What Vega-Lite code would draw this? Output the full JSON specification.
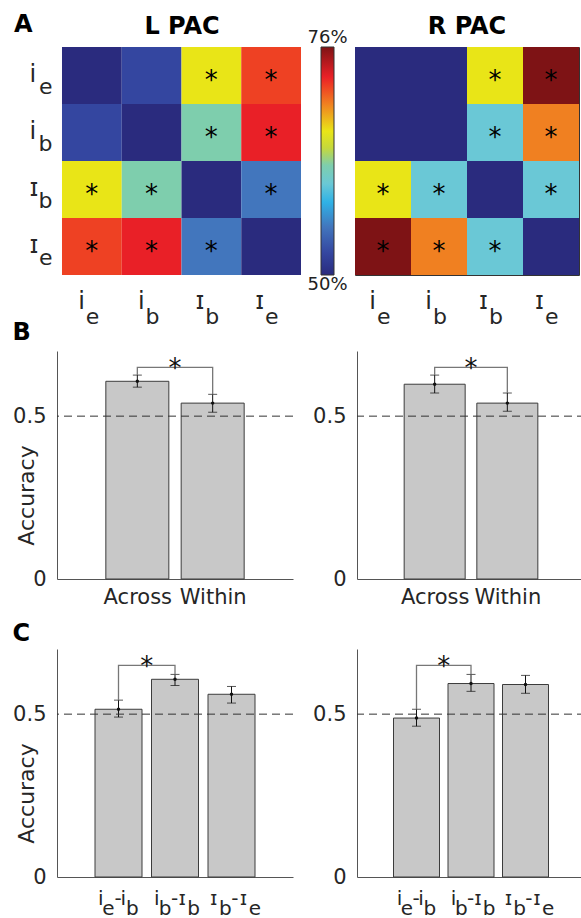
{
  "$schema": "https://vega.github.io/schema/vega-lite/v6.json",
  "padding": {"left": 12, "top": 12, "right": 0, "bottom": 0},
  "config": {
    "font": "DejaVu Sans",
    "view": {"stroke": null},
    "axis": {"grid": false, "labelColor": "#262626", "titleColor": "#262626", "domainColor": "#555555", "titleFontWeight": "normal"},
    "title": {"color": "#000000", "fontWeight": "bold"}
  },
  "datasets": {
    "heatL": [
      {"r": "ie", "c": "ie", "v": 50, "s": ""}, {"r": "ie", "c": "ib", "v": 52.5, "s": ""}, {"r": "ie", "c": "Ib", "v": 66.4, "s": "*"}, {"r": "ie", "c": "Ie", "v": 71.5, "s": "*"},
      {"r": "ib", "c": "ie", "v": 52.5, "s": ""}, {"r": "ib", "c": "ib", "v": 50, "s": ""}, {"r": "ib", "c": "Ib", "v": 62.5, "s": "*"}, {"r": "ib", "c": "Ie", "v": 72.6, "s": "*"},
      {"r": "Ib", "c": "ie", "v": 66.4, "s": "*"}, {"r": "Ib", "c": "ib", "v": 62.5, "s": "*"}, {"r": "Ib", "c": "Ib", "v": 50, "s": ""}, {"r": "Ib", "c": "Ie", "v": 55.5, "s": "*"},
      {"r": "Ie", "c": "ie", "v": 71.5, "s": "*"}, {"r": "Ie", "c": "ib", "v": 72.6, "s": "*"}, {"r": "Ie", "c": "Ib", "v": 55.5, "s": "*"}, {"r": "Ie", "c": "Ie", "v": 50, "s": ""}
    ],
    "heatR": [
      {"r": "ie", "c": "ie", "v": 50, "s": ""}, {"r": "ie", "c": "ib", "v": 50, "s": ""}, {"r": "ie", "c": "Ib", "v": 66.4, "s": "*"}, {"r": "ie", "c": "Ie", "v": 76, "s": "*"},
      {"r": "ib", "c": "ie", "v": 50, "s": ""}, {"r": "ib", "c": "ib", "v": 50, "s": ""}, {"r": "ib", "c": "Ib", "v": 60.4, "s": "*"}, {"r": "ib", "c": "Ie", "v": 69.5, "s": "*"},
      {"r": "Ib", "c": "ie", "v": 66.4, "s": "*"}, {"r": "Ib", "c": "ib", "v": 60.4, "s": "*"}, {"r": "Ib", "c": "Ib", "v": 50, "s": ""}, {"r": "Ib", "c": "Ie", "v": 60.4, "s": "*"},
      {"r": "Ie", "c": "ie", "v": 76, "s": "*"}, {"r": "Ie", "c": "ib", "v": 69.5, "s": "*"}, {"r": "Ie", "c": "Ib", "v": 60.4, "s": "*"}, {"r": "Ie", "c": "Ie", "v": 50, "s": ""}
    ],
    "cbar": [{"lo": 50, "hi": 76}],
    "cbarTop": [{"v": 76, "t": "76%"}],
    "cbarBottom": [{"v": 50, "t": "50%"}],
    "bL": [{"pos": 1, "name": "Across", "mean": 0.607, "lo": 0.589, "hi": 0.626}, {"pos": 2, "name": "Within", "mean": 0.54, "lo": 0.512, "hi": 0.567}],
    "bR": [{"pos": 1, "name": "Across", "mean": 0.598, "lo": 0.571, "hi": 0.626}, {"pos": 2, "name": "Within", "mean": 0.54, "lo": 0.515, "hi": 0.571}],
    "cL": [{"pos": 1, "name": "ie-ib", "mean": 0.515, "lo": 0.491, "hi": 0.543}, {"pos": 2, "name": "ib-Ib", "mean": 0.607, "lo": 0.588, "hi": 0.622}, {"pos": 3, "name": "Ib-Ie", "mean": 0.561, "lo": 0.534, "hi": 0.585}],
    "cR": [{"pos": 1, "name": "ie-ib", "mean": 0.488, "lo": 0.463, "hi": 0.515}, {"pos": 2, "name": "ib-Ib", "mean": 0.594, "lo": 0.57, "hi": 0.622}, {"pos": 3, "name": "Ib-Ie", "mean": 0.591, "lo": 0.564, "hi": 0.619}],
    "brBL": [{"x": 1, "y": 0.626, "o": 0}, {"x": 1, "y": 0.65, "o": 1}, {"x": 2, "y": 0.65, "o": 2}, {"x": 2, "y": 0.567, "o": 3}],
    "brBR": [{"x": 1, "y": 0.626, "o": 0}, {"x": 1, "y": 0.65, "o": 1}, {"x": 2, "y": 0.65, "o": 2}, {"x": 2, "y": 0.571, "o": 3}],
    "brCL": [{"x": 1, "y": 0.543, "o": 0}, {"x": 1, "y": 0.65, "o": 1}, {"x": 2, "y": 0.65, "o": 2}, {"x": 2, "y": 0.622, "o": 3}],
    "brCR": [{"x": 1, "y": 0.515, "o": 0}, {"x": 1, "y": 0.65, "o": 1}, {"x": 2, "y": 0.65, "o": 2}, {"x": 2, "y": 0.622, "o": 3}],
    "star": [{"x": 1.5, "y": 0.65, "t": "*"}],
    "chance": [{"y": 0.5}]
  },
  "columns": 1,
  "align": "none",
  "spacing": -7,
  "concat": [
    {
      "title": {"text": "A", "anchor": "start", "fontSize": 24, "dx": -15, "dy": 26},
      "spacing": 6,
      "hconcat": [
        {
          "width": 244, "height": 228,
          "title": {"text": "L PAC", "fontSize": 24, "offset": 8, "dx": 3},
          "data": {"name": "heatL"},
          "resolve": {"axis": {"x": "independent", "y": "independent"}},
          "layer": [
            {
              "mark": {"type": "rect"},
              "encoding": {
                "x": {"field": "c", "type": "nominal", "sort": ["ie", "ib", "Ib", "Ie"], "scale": {"paddingInner": 0, "paddingOuter": 0.0418, "align": 1}, "axis": {"orient": "bottom", "title": null, "domain": false, "ticks": false, "tickSize": 0, "labelAngle": 0, "labelPadding": 33, "labelBaseline": "alphabetic", "labelAlign": "right", "labelOffset": -7, "labelFontSize": 24, "labelExpr": "substring(datum.value,0,1) == 'i' ? 'i' : 'ɪ'"}},
                "y": {"field": "r", "type": "nominal", "sort": ["ie", "ib", "Ib", "Ie"], "axis": {"orient": "left", "title": null, "domain": false, "ticks": false, "tickSize": 0, "labelPadding": 28, "labelAlign": "left", "labelBaseline": "alphabetic", "labelOffset": 6, "labelFontSize": 24, "labelExpr": "substring(datum.value,0,1) == 'i' ? 'i' : 'ɪ'"}},
                "color": {
                  "field": "v", "type": "quantitative",
                  "scale": {"domain": [50, 52.5, 55.5, 58.3, 60.4, 62.5, 64.5, 66.4, 69.5, 71.5, 72.6, 76], "range": ["#2a2b7e", "#3446a0", "#4276bd", "#2fb2e6", "#6ac8d6", "#7ecead", "#c5d93c", "#e9e517", "#f08021", "#ee4123", "#e92027", "#7e1315"], "interpolate": "rgb", "nice": false},
                  "legend": null
                }
              }
            },
            {
              "mark": {"type": "text", "fontSize": 26, "baseline": "middle", "dy": 5, "color": "#000000"},
              "encoding": {
                "x": {"field": "c", "type": "nominal", "sort": ["ie", "ib", "Ib", "Ie"], "scale": {"paddingInner": 0, "paddingOuter": 0.0418, "align": 1}, "axis": {"orient": "bottom", "title": null, "domain": false, "ticks": false, "tickSize": 0, "labelAngle": 0, "labelPadding": 48, "labelBaseline": "alphabetic", "labelAlign": "left", "labelOffset": -6, "labelFontSize": 22, "labelExpr": "substring(datum.value,1,2)"}},
                "y": {"field": "r", "type": "nominal", "sort": ["ie", "ib", "Ib", "Ie"], "axis": {"orient": "left", "title": null, "domain": false, "ticks": false, "tickSize": 0, "labelPadding": 5, "labelAlign": "right", "labelBaseline": "alphabetic", "labelOffset": 18, "labelFontSize": 22, "labelExpr": "substring(datum.value,1,2)"}},
                "text": {"field": "s"}
              }
            }
          ]
        },
        {
          "width": 13, "height": 228,
          "layer": [
            {"data": {"name": "cbar"},
             "mark": {"type": "rect", "stroke": "#333333", "strokeWidth": 1,
                      "fill": {"gradient": "linear", "x1": 0, "y1": 1, "x2": 0, "y2": 0, "stops": [
                        {"offset": 0, "color": "#2a2b7e"}, {"offset": 0.0962, "color": "#3446a0"}, {"offset": 0.2115, "color": "#4276bd"}, {"offset": 0.3192, "color": "#2fb2e6"},
                        {"offset": 0.4, "color": "#6ac8d6"}, {"offset": 0.4808, "color": "#7ecead"}, {"offset": 0.5577, "color": "#c5d93c"}, {"offset": 0.6308, "color": "#e9e517"},
                        {"offset": 0.75, "color": "#f08021"}, {"offset": 0.8269, "color": "#ee4123"}, {"offset": 0.8692, "color": "#e92027"}, {"offset": 1, "color": "#7e1315"}]}},
             "encoding": {"y": {"field": "lo", "type": "quantitative", "scale": {"domain": [50, 76], "nice": false, "zero": false}, "axis": null}, "y2": {"field": "hi"}}},
            {"data": {"name": "cbarTop"}, "mark": {"type": "text", "baseline": "bottom", "fontSize": 18, "dy": 0, "color": "#222222"},
             "encoding": {"y": {"field": "v", "type": "quantitative", "scale": {"domain": [50, 76], "nice": false, "zero": false}, "axis": null}, "text": {"field": "t"}}},
            {"data": {"name": "cbarBottom"}, "mark": {"type": "text", "baseline": "top", "fontSize": 18, "dy": 1, "color": "#222222"},
             "encoding": {"y": {"field": "v", "type": "quantitative", "scale": {"domain": [50, 76], "nice": false, "zero": false}, "axis": null}, "text": {"field": "t"}}}
          ]
        },
        {
          "width": 224, "height": 228,
          "view": {"stroke": "#333333", "strokeWidth": 1},
          "title": {"text": "R PAC", "fontSize": 24, "offset": 8},
          "data": {"name": "heatR"},
          "resolve": {"axis": {"x": "independent"}},
          "layer": [
            {
              "mark": {"type": "rect"},
              "encoding": {
                "x": {"field": "c", "type": "nominal", "sort": ["ie", "ib", "Ib", "Ie"], "axis": {"orient": "bottom", "title": null, "domain": false, "ticks": false, "tickSize": 0, "labelAngle": 0, "labelPadding": 33, "labelBaseline": "alphabetic", "labelAlign": "right", "labelOffset": -7, "labelFontSize": 24, "labelExpr": "substring(datum.value,0,1) == 'i' ? 'i' : 'ɪ'"}},
                "y": {"field": "r", "type": "nominal", "sort": ["ie", "ib", "Ib", "Ie"], "axis": null},
                "color": {
                  "field": "v", "type": "quantitative",
                  "scale": {"domain": [50, 52.5, 55.5, 58.3, 60.4, 62.5, 64.5, 66.4, 69.5, 71.5, 72.6, 76], "range": ["#2a2b7e", "#3446a0", "#4276bd", "#2fb2e6", "#6ac8d6", "#7ecead", "#c5d93c", "#e9e517", "#f08021", "#ee4123", "#e92027", "#7e1315"], "interpolate": "rgb", "nice": false},
                  "legend": null
                }
              }
            },
            {
              "mark": {"type": "text", "fontSize": 26, "baseline": "middle", "dy": 5, "color": "#000000"},
              "encoding": {
                "x": {"field": "c", "type": "nominal", "sort": ["ie", "ib", "Ib", "Ie"], "axis": {"orient": "bottom", "title": null, "domain": false, "ticks": false, "tickSize": 0, "labelAngle": 0, "labelPadding": 48, "labelBaseline": "alphabetic", "labelAlign": "left", "labelOffset": -6, "labelFontSize": 22, "labelExpr": "substring(datum.value,1,2)"}},
                "y": {"field": "r", "type": "nominal", "sort": ["ie", "ib", "Ib", "Ie"], "axis": null},
                "text": {"field": "s"}
              }
            }
          ]
        }
      ]
    },
    {
      "spacing": 15,
      "vconcat": [
        {
          "title": {"text": "B", "anchor": "start", "fontSize": 24, "offset": 6},
          "spacing": 18,
          "hconcat": [
            {
              "width": 236, "height": 228,
              "layer": [
                {"data": {"name": "bL"}, "mark": {"type": "bar", "orient": "vertical", "size": 63, "fill": "#c8c8c8", "stroke": "#3c3c3c", "strokeWidth": 1},
                 "encoding": {
                   "x": {"field": "pos", "type": "quantitative", "scale": {"domain": [0, 3], "nice": false, "zero": false}, "axis": {"values": [1, 2], "labelExpr": "datum.value == 1 ? 'Across' : 'Within'", "title": null, "ticks": false, "tickSize": 0, "labelFontSize": 21, "labelPadding": 7, "labelFlush": false, "labelAngle": 0}},
                   "y": {"field": "mean", "type": "quantitative", "scale": {"domain": [0, 0.7], "nice": false}, "axis": {"values": [0, 0.5], "format": ".1~f", "labelFontSize": 21, "labelPadding": 11, "ticks": false, "tickSize": 0, "labelFlush": false, "title": "Accuracy", "titleFontSize": 22, "titleX": -19, "titleY": 144, "titleBaseline": "bottom", "titleAngle": -90, "titleAlign": "center"}}
                 }},
                {"data": {"name": "bL"}, "mark": {"type": "rule", "color": "#111111", "strokeWidth": 1},
                 "encoding": {"x": {"field": "pos", "type": "quantitative", "scale": {"domain": [0, 3], "nice": false}}, "y": {"field": "lo", "type": "quantitative", "scale": {"domain": [0, 0.7], "nice": false}}, "y2": {"field": "hi"}}},
                {"data": {"name": "bL"}, "mark": {"type": "tick", "orient": "horizontal", "size": 9, "thickness": 1, "color": "#111111"},
                 "encoding": {"x": {"field": "pos", "type": "quantitative", "scale": {"domain": [0, 3], "nice": false}}, "y": {"field": "lo", "type": "quantitative", "scale": {"domain": [0, 0.7], "nice": false}}}},
                {"data": {"name": "bL"}, "mark": {"type": "tick", "orient": "horizontal", "size": 9, "thickness": 1, "color": "#111111"},
                 "encoding": {"x": {"field": "pos", "type": "quantitative", "scale": {"domain": [0, 3], "nice": false}}, "y": {"field": "hi", "type": "quantitative", "scale": {"domain": [0, 0.7], "nice": false}}}},
                {"data": {"name": "bL"}, "mark": {"type": "point", "filled": true, "size": 12, "color": "#111111", "opacity": 1},
                 "encoding": {"x": {"field": "pos", "type": "quantitative", "scale": {"domain": [0, 3], "nice": false}}, "y": {"field": "mean", "type": "quantitative", "scale": {"domain": [0, 0.7], "nice": false}}}},
                {"data": {"name": "chance"}, "mark": {"type": "rule", "strokeDash": [8, 5], "color": "#333333", "strokeWidth": 1},
                 "encoding": {"y": {"field": "y", "type": "quantitative", "scale": {"domain": [0, 0.7], "nice": false}}}},
                {"data": {"name": "brBL"}, "mark": {"type": "line", "color": "#777777", "strokeWidth": 1.3},
                 "encoding": {"x": {"field": "x", "type": "quantitative", "scale": {"domain": [0, 3], "nice": false}}, "y": {"field": "y", "type": "quantitative", "scale": {"domain": [0, 0.7], "nice": false}}, "order": {"field": "o"}}},
                {"data": {"name": "star"}, "mark": {"type": "text", "fontSize": 26, "baseline": "alphabetic", "dy": 10, "color": "#111111"},
                 "encoding": {"x": {"field": "x", "type": "quantitative", "scale": {"domain": [0, 3], "nice": false}}, "y": {"field": "y", "type": "quantitative", "scale": {"domain": [0, 0.7], "nice": false}}, "text": {"field": "t"}}}
              ]
            },
            {
              "width": 228, "height": 228,
              "layer": [
                {"data": {"name": "bR"}, "mark": {"type": "bar", "orient": "vertical", "size": 61, "fill": "#c8c8c8", "stroke": "#3c3c3c", "strokeWidth": 1},
                 "encoding": {
                   "x": {"field": "pos", "type": "quantitative", "scale": {"domain": [0, 3], "nice": false, "zero": false}, "axis": {"values": [1, 2], "labelExpr": "datum.value == 1 ? 'Across' : 'Within'", "title": null, "ticks": false, "tickSize": 0, "labelFontSize": 21, "labelPadding": 7, "labelFlush": false, "labelAngle": 0}},
                   "y": {"field": "mean", "type": "quantitative", "scale": {"domain": [0, 0.7], "nice": false}, "axis": {"values": [0, 0.5], "format": ".1~f", "labelFontSize": 21, "labelPadding": 11, "ticks": false, "tickSize": 0, "labelFlush": false, "title": null}}
                 }},
                {"data": {"name": "bR"}, "mark": {"type": "rule", "color": "#111111", "strokeWidth": 1},
                 "encoding": {"x": {"field": "pos", "type": "quantitative", "scale": {"domain": [0, 3], "nice": false}}, "y": {"field": "lo", "type": "quantitative", "scale": {"domain": [0, 0.7], "nice": false}}, "y2": {"field": "hi"}}},
                {"data": {"name": "bR"}, "mark": {"type": "tick", "orient": "horizontal", "size": 9, "thickness": 1, "color": "#111111"},
                 "encoding": {"x": {"field": "pos", "type": "quantitative", "scale": {"domain": [0, 3], "nice": false}}, "y": {"field": "lo", "type": "quantitative", "scale": {"domain": [0, 0.7], "nice": false}}}},
                {"data": {"name": "bR"}, "mark": {"type": "tick", "orient": "horizontal", "size": 9, "thickness": 1, "color": "#111111"},
                 "encoding": {"x": {"field": "pos", "type": "quantitative", "scale": {"domain": [0, 3], "nice": false}}, "y": {"field": "hi", "type": "quantitative", "scale": {"domain": [0, 0.7], "nice": false}}}},
                {"data": {"name": "bR"}, "mark": {"type": "point", "filled": true, "size": 12, "color": "#111111", "opacity": 1},
                 "encoding": {"x": {"field": "pos", "type": "quantitative", "scale": {"domain": [0, 3], "nice": false}}, "y": {"field": "mean", "type": "quantitative", "scale": {"domain": [0, 0.7], "nice": false}}}},
                {"data": {"name": "chance"}, "mark": {"type": "rule", "strokeDash": [8, 5], "color": "#333333", "strokeWidth": 1},
                 "encoding": {"y": {"field": "y", "type": "quantitative", "scale": {"domain": [0, 0.7], "nice": false}}}},
                {"data": {"name": "brBR"}, "mark": {"type": "line", "color": "#777777", "strokeWidth": 1.3},
                 "encoding": {"x": {"field": "x", "type": "quantitative", "scale": {"domain": [0, 3], "nice": false}}, "y": {"field": "y", "type": "quantitative", "scale": {"domain": [0, 0.7], "nice": false}}, "order": {"field": "o"}}},
                {"data": {"name": "star"}, "mark": {"type": "text", "fontSize": 26, "baseline": "alphabetic", "dy": 10, "color": "#111111"},
                 "encoding": {"x": {"field": "x", "type": "quantitative", "scale": {"domain": [0, 3], "nice": false}}, "y": {"field": "y", "type": "quantitative", "scale": {"domain": [0, 0.7], "nice": false}}, "text": {"field": "t"}}}
              ]
            }
          ]
        },
        {
          "title": {"text": "C", "anchor": "start", "fontSize": 24, "offset": 3},
          "spacing": 18,
          "hconcat": [
            {
              "width": 236, "height": 228,
              "resolve": {"axis": {"x": "independent"}},
              "layer": [
                {"data": {"name": "cL"}, "mark": {"type": "bar", "orient": "vertical", "size": 47, "fill": "#c8c8c8", "stroke": "#3c3c3c", "strokeWidth": 1},
                 "encoding": {
                   "x": {"field": "pos", "type": "quantitative", "scale": {"domain": [0, 4], "nice": false, "zero": false}, "axis": {"orient": "bottom", "values": [0.678, 0.983, 1.076, 1.669, 1.983, 2.119, 2.678, 3.051, 3.203], "labelExpr": "['i','-','i','i','-','ɪ','ɪ','-','ɪ'][indexof([0.678, 0.983, 1.076, 1.669, 1.983, 2.119, 2.678, 3.051, 3.203], datum.value)]", "title": null, "ticks": false, "tickSize": 0, "labelFontSize": 20, "labelPadding": 27, "labelBaseline": "alphabetic", "labelAlign": "center", "labelOverlap": false, "labelFlush": false, "labelAngle": 0}},
                   "y": {"field": "mean", "type": "quantitative", "scale": {"domain": [0, 0.7], "nice": false}, "axis": {"values": [0, 0.5], "format": ".1~f", "labelFontSize": 21, "labelPadding": 11, "ticks": false, "tickSize": 0, "labelFlush": false, "title": "Accuracy", "titleFontSize": 22, "titleX": -19, "titleY": 144, "titleBaseline": "bottom", "titleAngle": -90, "titleAlign": "center"}}
                 }},
                {"data": {"name": "cL"}, "mark": {"type": "rule", "color": "#111111", "strokeWidth": 1},
                 "encoding": {"x": {"field": "pos", "type": "quantitative", "scale": {"domain": [0, 4], "nice": false}, "axis": {"orient": "bottom", "values": [0.814, 1.237, 1.814, 2.322, 2.881, 3.407], "labelExpr": "['e','b','b','b','b','e'][indexof([0.814, 1.237, 1.814, 2.322, 2.881, 3.407], datum.value)]", "domain": false, "title": null, "ticks": false, "tickSize": 0, "labelFontSize": 20, "labelPadding": 37, "labelBaseline": "alphabetic", "labelAlign": "center", "labelOverlap": false, "labelFlush": false, "labelAngle": 0}}, "y": {"field": "lo", "type": "quantitative", "scale": {"domain": [0, 0.7], "nice": false}}, "y2": {"field": "hi"}}},
                {"data": {"name": "cL"}, "mark": {"type": "tick", "orient": "horizontal", "size": 9, "thickness": 1, "color": "#111111"},
                 "encoding": {"x": {"field": "pos", "type": "quantitative", "scale": {"domain": [0, 4], "nice": false}, "axis": null}, "y": {"field": "lo", "type": "quantitative", "scale": {"domain": [0, 0.7], "nice": false}}}},
                {"data": {"name": "cL"}, "mark": {"type": "tick", "orient": "horizontal", "size": 9, "thickness": 1, "color": "#111111"},
                 "encoding": {"x": {"field": "pos", "type": "quantitative", "scale": {"domain": [0, 4], "nice": false}, "axis": null}, "y": {"field": "hi", "type": "quantitative", "scale": {"domain": [0, 0.7], "nice": false}}}},
                {"data": {"name": "cL"}, "mark": {"type": "point", "filled": true, "size": 12, "color": "#111111", "opacity": 1},
                 "encoding": {"x": {"field": "pos", "type": "quantitative", "scale": {"domain": [0, 4], "nice": false}, "axis": null}, "y": {"field": "mean", "type": "quantitative", "scale": {"domain": [0, 0.7], "nice": false}}}},
                {"data": {"name": "chance"}, "mark": {"type": "rule", "strokeDash": [8, 5], "color": "#333333", "strokeWidth": 1},
                 "encoding": {"y": {"field": "y", "type": "quantitative", "scale": {"domain": [0, 0.7], "nice": false}}}},
                {"data": {"name": "brCL"}, "mark": {"type": "line", "color": "#777777", "strokeWidth": 1.3},
                 "encoding": {"x": {"field": "x", "type": "quantitative", "scale": {"domain": [0, 4], "nice": false}, "axis": null}, "y": {"field": "y", "type": "quantitative", "scale": {"domain": [0, 0.7], "nice": false}}, "order": {"field": "o"}}},
                {"data": {"name": "star"}, "mark": {"type": "text", "fontSize": 26, "baseline": "alphabetic", "dy": 10, "color": "#111111"},
                 "encoding": {"x": {"field": "x", "type": "quantitative", "scale": {"domain": [0, 4], "nice": false}, "axis": null}, "y": {"field": "y", "type": "quantitative", "scale": {"domain": [0, 0.7], "nice": false}}, "text": {"field": "t"}}}
              ]
            },
            {
              "width": 228, "height": 228,
              "resolve": {"axis": {"x": "independent"}},
              "layer": [
                {"data": {"name": "cR"}, "mark": {"type": "bar", "orient": "vertical", "size": 46, "fill": "#c8c8c8", "stroke": "#3c3c3c", "strokeWidth": 1},
                 "encoding": {
                   "x": {"field": "pos", "type": "quantitative", "scale": {"domain": [0, 4], "nice": false, "zero": false}, "axis": {"orient": "bottom", "values": [0.678, 0.983, 1.076, 1.669, 1.983, 2.119, 2.678, 3.051, 3.203], "labelExpr": "['i','-','i','i','-','ɪ','ɪ','-','ɪ'][indexof([0.678, 0.983, 1.076, 1.669, 1.983, 2.119, 2.678, 3.051, 3.203], datum.value)]", "title": null, "ticks": false, "tickSize": 0, "labelFontSize": 20, "labelPadding": 27, "labelBaseline": "alphabetic", "labelAlign": "center", "labelOverlap": false, "labelFlush": false, "labelAngle": 0}},
                   "y": {"field": "mean", "type": "quantitative", "scale": {"domain": [0, 0.7], "nice": false}, "axis": {"values": [0, 0.5], "format": ".1~f", "labelFontSize": 21, "labelPadding": 11, "ticks": false, "tickSize": 0, "labelFlush": false, "title": null}}
                 }},
                {"data": {"name": "cR"}, "mark": {"type": "rule", "color": "#111111", "strokeWidth": 1},
                 "encoding": {"x": {"field": "pos", "type": "quantitative", "scale": {"domain": [0, 4], "nice": false}, "axis": {"orient": "bottom", "values": [0.814, 1.237, 1.814, 2.322, 2.881, 3.407], "labelExpr": "['e','b','b','b','b','e'][indexof([0.814, 1.237, 1.814, 2.322, 2.881, 3.407], datum.value)]", "domain": false, "title": null, "ticks": false, "tickSize": 0, "labelFontSize": 20, "labelPadding": 37, "labelBaseline": "alphabetic", "labelAlign": "center", "labelOverlap": false, "labelFlush": false, "labelAngle": 0}}, "y": {"field": "lo", "type": "quantitative", "scale": {"domain": [0, 0.7], "nice": false}}, "y2": {"field": "hi"}}},
                {"data": {"name": "cR"}, "mark": {"type": "tick", "orient": "horizontal", "size": 9, "thickness": 1, "color": "#111111"},
                 "encoding": {"x": {"field": "pos", "type": "quantitative", "scale": {"domain": [0, 4], "nice": false}, "axis": null}, "y": {"field": "lo", "type": "quantitative", "scale": {"domain": [0, 0.7], "nice": false}}}},
                {"data": {"name": "cR"}, "mark": {"type": "tick", "orient": "horizontal", "size": 9, "thickness": 1, "color": "#111111"},
                 "encoding": {"x": {"field": "pos", "type": "quantitative", "scale": {"domain": [0, 4], "nice": false}, "axis": null}, "y": {"field": "hi", "type": "quantitative", "scale": {"domain": [0, 0.7], "nice": false}}}},
                {"data": {"name": "cR"}, "mark": {"type": "point", "filled": true, "size": 12, "color": "#111111", "opacity": 1},
                 "encoding": {"x": {"field": "pos", "type": "quantitative", "scale": {"domain": [0, 4], "nice": false}, "axis": null}, "y": {"field": "mean", "type": "quantitative", "scale": {"domain": [0, 0.7], "nice": false}}}},
                {"data": {"name": "chance"}, "mark": {"type": "rule", "strokeDash": [8, 5], "color": "#333333", "strokeWidth": 1},
                 "encoding": {"y": {"field": "y", "type": "quantitative", "scale": {"domain": [0, 0.7], "nice": false}}}},
                {"data": {"name": "brCR"}, "mark": {"type": "line", "color": "#777777", "strokeWidth": 1.3},
                 "encoding": {"x": {"field": "x", "type": "quantitative", "scale": {"domain": [0, 4], "nice": false}, "axis": null}, "y": {"field": "y", "type": "quantitative", "scale": {"domain": [0, 0.7], "nice": false}}, "order": {"field": "o"}}},
                {"data": {"name": "star"}, "mark": {"type": "text", "fontSize": 26, "baseline": "alphabetic", "dy": 10, "color": "#111111"},
                 "encoding": {"x": {"field": "x", "type": "quantitative", "scale": {"domain": [0, 4], "nice": false}, "axis": null}, "y": {"field": "y", "type": "quantitative", "scale": {"domain": [0, 0.7], "nice": false}}, "text": {"field": "t"}}}
              ]
            }
          ]
        }
      ]
    }
  ]
}
